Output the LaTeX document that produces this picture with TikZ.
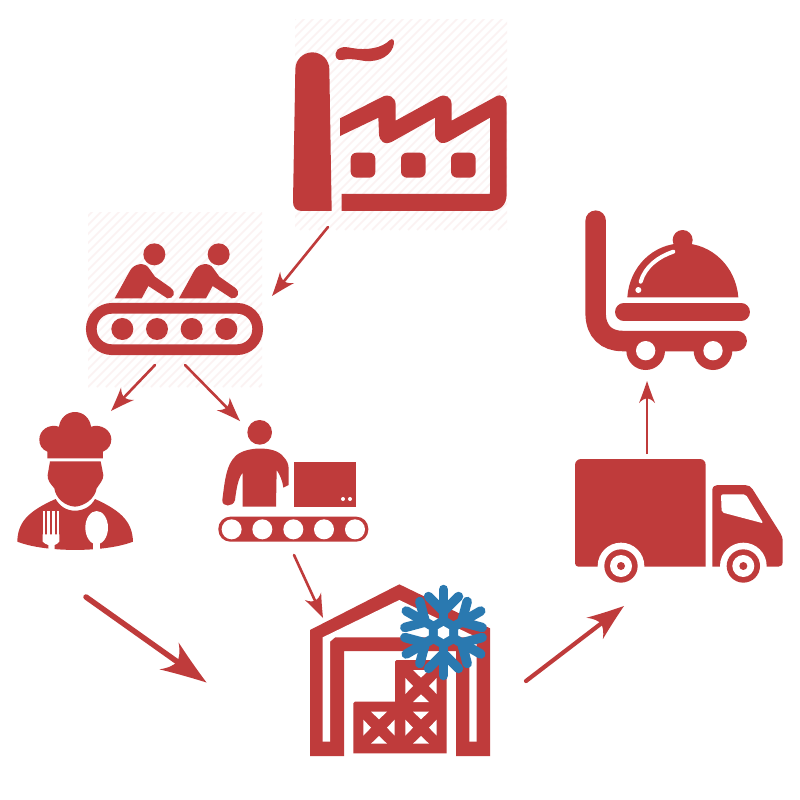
\documentclass[tikz,border=0pt]{standalone}
\usetikzlibrary{arrows.meta}
\definecolor{brick}{HTML}{BF3B3B}
\definecolor{flake}{HTML}{2A79B0}
\definecolor{hatch}{HTML}{FBF2F2}
\makeatletter
\pgfdeclarearrow{
  name = Swoop,
  setup code = {
    \pgfarrowssettipend{0pt}
    \pgfarrowssetlineend{-0.6\pgfarrowlength}
    \pgfarrowssetvisualbackend{-\pgfarrowlength}
    \pgfarrowshullpoint{0pt}{0pt}
    \pgfarrowsupperhullpoint{-\pgfarrowlength}{.5\pgfarrowwidth}
    \pgfarrowssavethe\pgfarrowlength
    \pgfarrowssavethe\pgfarrowwidth
  },
  drawing code = {
    \pgfpathmoveto{\pgfqpoint{0pt}{0pt}}
    \pgfpathcurveto{\pgfqpoint{-.4\pgfarrowlength}{.18\pgfarrowwidth}}{\pgfqpoint{-.75\pgfarrowlength}{.36\pgfarrowwidth}}{\pgfqpoint{-\pgfarrowlength}{.5\pgfarrowwidth}}
    \pgfpathcurveto{\pgfqpoint{-.85\pgfarrowlength}{.3\pgfarrowwidth}}{\pgfqpoint{-.8\pgfarrowlength}{.15\pgfarrowwidth}}{\pgfqpoint{-.78\pgfarrowlength}{0pt}}
    \pgfpathcurveto{\pgfqpoint{-.8\pgfarrowlength}{-.15\pgfarrowwidth}}{\pgfqpoint{-.85\pgfarrowlength}{-.3\pgfarrowwidth}}{\pgfqpoint{-\pgfarrowlength}{-.5\pgfarrowwidth}}
    \pgfpathcurveto{\pgfqpoint{-.75\pgfarrowlength}{-.36\pgfarrowwidth}}{\pgfqpoint{-.4\pgfarrowlength}{-.18\pgfarrowwidth}}{\pgfqpoint{0pt}{0pt}}
    \pgfpathclose
    \pgfusepathqfill
  },
  parameters = {\the\pgfarrowlength,\the\pgfarrowwidth},
  defaults = {length=10pt,width=8pt}
}
\makeatother
\tikzset{
  red fill/.style={fill=brick,draw=none},
  white fill/.style={fill=white,draw=none},
  zoomed/.style={shift={#1},scale=1/3},
  flow/.style={draw=brick,line width=2.6pt,line cap=round,-{Swoop[length=24pt,width=18pt]}},
  bold flow/.style={draw=brick,line width=5.5pt,line cap=round,-{Swoop[length=46pt,width=33pt]}},
  mid flow/.style={draw=brick,line width=4.2pt,line cap=round,-{Swoop[length=37pt,width=27pt]}},
  thin flow/.style={draw=brick,line width=2.4pt,line cap=butt,-{Swoop[length=22pt,width=16pt]}},
  flake line/.style={draw=flake,line width=9.5pt,line cap=round,line join=round}
}
\begin{document}
\begin{tikzpicture}[x=1pt,y=-1pt]
\useasboundingbox (0,0) rectangle (800,800);
\fill[white] (0,0) rectangle (800,800);

% hatched backgrounds
\begin{scope}
  \clip (295,20) rectangle (507,230);
  \foreach \i in {0,9,...,440} {\draw[hatch,line width=1.6pt] (295+\i-220,230) -- ++(220,-220);}
\end{scope}
\begin{scope}
  \clip (88,212) rectangle (262,387);
  \foreach \i in {0,9,...,370} {\draw[hatch,line width=1.6pt] (88+\i-180,387) -- ++(180,-180);}
\end{scope}

% factory
\begin{scope}[zoomed={(280,10)}]
  \fill[red fill] (46,178) arc[start angle=180,end angle=360,x radius=51,y radius=51] -- (155,603) -- (65,603)
     .. controls (48,603) and (39,592) .. (39,575) -- cycle;
  \fill[red fill] (167,130) .. controls (170,112) and (190,108) .. (215,114)
     .. controls (260,122) and (305,115) .. (330,90)
     .. controls (338,84) and (343,90) .. (342,100)
     .. controls (337,135) and (300,157) .. (255,153)
     .. controls (225,148) and (205,145) .. (185,150)
     .. controls (172,152) and (165,142) .. (167,130) -- cycle;
  \fill[red fill] (180,325) -- (306,261) .. controls (325,250) and (347,260) .. (347,285) -- (347,332)
     -- (476,261) .. controls (495,250) and (515,260) .. (515,285) -- (515,332)
     -- (645,261) .. controls (665,248) and (680,262) .. (680,285)
     -- (680,553) .. controls (680,585) and (660,603) .. (630,603)
     -- (185,603) -- (185,552) -- (625,552) .. controls (630,552) and (630,552) .. (630,547) -- (630,323)
     -- (510,392) .. controls (485,408) and (465,395) .. (465,370) -- (465,323)
     -- (340,393) .. controls (315,408) and (297,395) .. (297,370) -- (295,323) -- (180,378) -- cycle;
  \foreach \c in {249,400,550} {
    \fill[red fill,rounded corners=6pt] (\c-37,428) rectangle (\c+37,503);
  }
\end{scope}

% conveyor with two people
\begin{scope}[zoomed={(80,205)}]
  \draw[brick,line width=10.7pt,rounded corners=20.5pt] (34,310) rectangle (533,434);
  \foreach \c in {127,231,335,439} {\fill[red fill] (\c,372) circle[radius=33];}
  \foreach \d in {0,193} {
    \begin{scope}[xshift=\d*1pt]
      \fill[red fill] (223,148) circle[radius=33];
      \fill[red fill] (104,280) -- (150,197) .. controls (162,175) and (195,170) .. (207,190)
        -- (225,215) -- (272,248) .. controls (290,262) and (280,282) .. (262,280)
        -- (205,243) -- (185,280) -- cycle;
    \end{scope}
  }
\end{scope}

% chef
\begin{scope}[zoomed={(5,400)}]
  \fill[red fill] (127,175) -- (127,155) .. controls (110,148) and (103,135) .. (103,118)
    .. controls (103,92) and (130,70) .. (162,80)
    .. controls (165,55) and (185,36) .. (210,36)
    .. controls (235,36) and (255,55) .. (258,80)
    .. controls (290,70) and (319,92) .. (319,118)
    .. controls (319,135) and (310,148) .. (294,155) -- (294,175) -- cycle;
  \fill[red fill] (135,184) -- (287,184) -- (295,225)
    .. controls (295,240) and (285,250) .. (275,265)
    .. controls (270,295) and (240,318) .. (210,320)
    .. controls (180,318) and (152,295) .. (148,265)
    .. controls (135,250) and (127,240) .. (128,225) -- cycle;
  \fill[red fill] (37,425) .. controls (38,370) and (65,335) .. (152,297)
    .. controls (165,320) and (185,332) .. (210,332)
    .. controls (235,332) and (258,320) .. (270,297)
    .. controls (355,335) and (382,370) .. (384,425)
    .. controls (300,458) and (120,458) .. (37,425) -- cycle;
  \foreach \t in {113,127,141,155} {\fill[white fill] (\t,333) rectangle (\t+8,405);}
  \fill[white fill] (113,403) -- (163,403) -- (163,425) .. controls (160,432) and (152,432) .. (149,435) -- (149,456) -- (130,456) -- (130,435) .. controls (127,432) and (116,432) .. (113,425) -- cycle;
  \fill[white fill] (275,383) ellipse[x radius=34,y radius=50];
  \fill[white fill] (265,425) rectangle (285,456);
\end{scope}

% worker on conveyor
\begin{scope}[zoomed={(5,400)}]
  \fill[red fill] (764,97) circle[radius=37];
  \fill[red fill] (713,320) -- (713,218) .. controls (700,235) and (695,260) .. (690,300)
    .. controls (685,322) and (650,322) .. (652,300)
    .. controls (660,235) and (665,195) .. (690,170)
    .. controls (715,140) and (810,135) .. (835,170)
    .. controls (845,180) and (850,190) .. (851,205)
    -- (851,255) -- (835,263) .. controls (832,240) and (825,225) .. (815,210)
    -- (813,320) -- cycle;
  \fill[red fill] (866,186) rectangle (1054,320);
  \fill[white fill] (1014,297) circle[radius=6];
  \fill[white fill] (1035,297) circle[radius=6];
  \fill[red fill,rounded corners=12pt] (640,350) rectangle (1090,425);
  \foreach \c in {680,772,865,957,1050} {\fill[white fill] (\c,388) circle[radius=30];}
\end{scope}

% cold warehouse
\begin{scope}[zoomed={(300,575)}]
  \fill[red fill] (30,165) -- (298,28) -- (570,160) -- (570,543) -- (468,543) -- (468,228) -- (132,228) -- (132,543) -- (30,543) -- cycle;
  \fill[white fill] (68,500) -- (68,187) -- (298,75) -- (530,187) -- (530,500) -- (508,500) -- (508,187) -- (105,187) -- (90,200) -- (90,500) -- cycle;
  \fill[red fill] (160,385) -- (165,380) -- (285,380) -- (285,260) -- (290,255) -- (440,255) -- (440,535) -- (160,535) -- cycle;
  \foreach \cx/\cy in {237/458,363/458,363/333} {
    \fill[white fill] (\cx-24,\cy-48) -- (\cx+24,\cy-48) -- (\cx,\cy-25) -- cycle;
    \fill[white fill] (\cx-24,\cy+48) -- (\cx+24,\cy+48) -- (\cx,\cy+25) -- cycle;
    \fill[white fill] (\cx-47,\cy-24) -- (\cx-47,\cy+24) -- (\cx-24,\cy) -- cycle;
    \fill[white fill] (\cx+47,\cy-24) -- (\cx+47,\cy+24) -- (\cx+24,\cy) -- cycle;
  }
\end{scope}

% snowflake
\begin{scope}[shift={(443.5,632.5)}]
  \foreach \a in {0,60,...,300} {
    \begin{scope}[rotate=\a]
      \draw[flake line] (0,-8) -- (0,-43);
      \draw[flake line] (-15,-36) -- (0,-21) -- (15,-36);
    \end{scope}
  }
  \fill[flake] (90:17) -- (150:17) -- (210:17) -- (270:17) -- (330:17) -- (30:17) -- cycle;
  \fill[white] (90:6.5) -- (150:6.5) -- (210:6.5) -- (270:6.5) -- (330:6.5) -- (30:6.5) -- cycle;
\end{scope}

% truck
\begin{scope}[zoomed={(565,450)}]
  \fill[red fill] (30,45) .. controls (30,35) and (38,27) .. (48,27) -- (405,27) .. controls (415,27) and (422,35) .. (422,45)
    -- (422,350) -- (40,350) .. controls (35,350) and (30,345) .. (30,340) -- cycle;
  \fill[red fill] (442,120) .. controls (442,110) and (450,105) .. (458,105) -- (540,105) .. controls (550,105) and (558,110) .. (563,118)
    -- (640,240) .. controls (650,255) and (653,262) .. (653,275) -- (653,335) .. controls (653,345) and (648,350) .. (640,350)
    -- (442,350) -- cycle;
  \fill[white fill,rounded corners=2pt] (468,133) -- (542,133) -- (595,220) -- (470,187) -- cycle;
  \foreach \c in {168,535} {
    \fill[white fill] (\c,348) circle[radius=70];
    \fill[red fill] (\c,348) circle[radius=50];
    \fill[white fill] (\c,348) circle[radius=33];
    \fill[red fill] (\c,348) circle[radius=12];
  }
\end{scope}

% food trolley
\begin{scope}[zoomed={(570,200)}]
  \draw[brick,line width=20.5pt,line cap=round] (77,62) -- (77,340) .. controls (77,395) and (110,423) .. (157,423) -- (500,423);
  \foreach \c in {227,429} {
    \fill[red fill] (\c,452) circle[radius=58];
    \fill[white fill] (\c,452) circle[radius=29];
  }
  \draw[brick,line width=17.3pt,line cap=round] (161,336) -- (514,336);
  \fill[red fill] (172,292) .. controls (178,200) and (250,130) .. (338,130)
     .. controls (425,130) and (498,200) .. (505,292) -- cycle;
  \fill[red fill] (338,120) circle[radius=30];
  \draw[white,line width=4pt,line cap=round] (310,155) .. controls (265,170) and (225,200) .. (212,245);
  \fill[white fill] (205,270) circle[radius=9];
\end{scope}

% connector ends
\coordinate (factoryOut) at (328,227);
\coordinate (lineIn) at (272,296);
\coordinate (lineToChef) at (155,365);
\coordinate (chefIn) at (111,411);
\coordinate (lineToPack) at (185,365);
\coordinate (packIn) at (240,421);
\coordinate (packOut) at (294,555);
\coordinate (storeIn) at (323,618);
\coordinate (chefOut) at (86,597);
\coordinate (storeInB) at (206.5,682.5);
\coordinate (storeOut) at (526,681);
\coordinate (truckIn) at (624,606);
\coordinate (truckOut) at (647,454);
\coordinate (trolleyIn) at (647,381);

\draw[flow] (factoryOut) -- (lineIn);
\draw[flow] (lineToChef) -- (chefIn);
\draw[flow] (lineToPack) -- (packIn);
\draw[flow] (packOut) -- (storeIn);
\draw[bold flow] (chefOut) -- (storeInB);
\draw[mid flow] (storeOut) -- (truckIn);
\draw[thin flow] (truckOut) -- (trolleyIn);
\end{tikzpicture}
\end{document}
